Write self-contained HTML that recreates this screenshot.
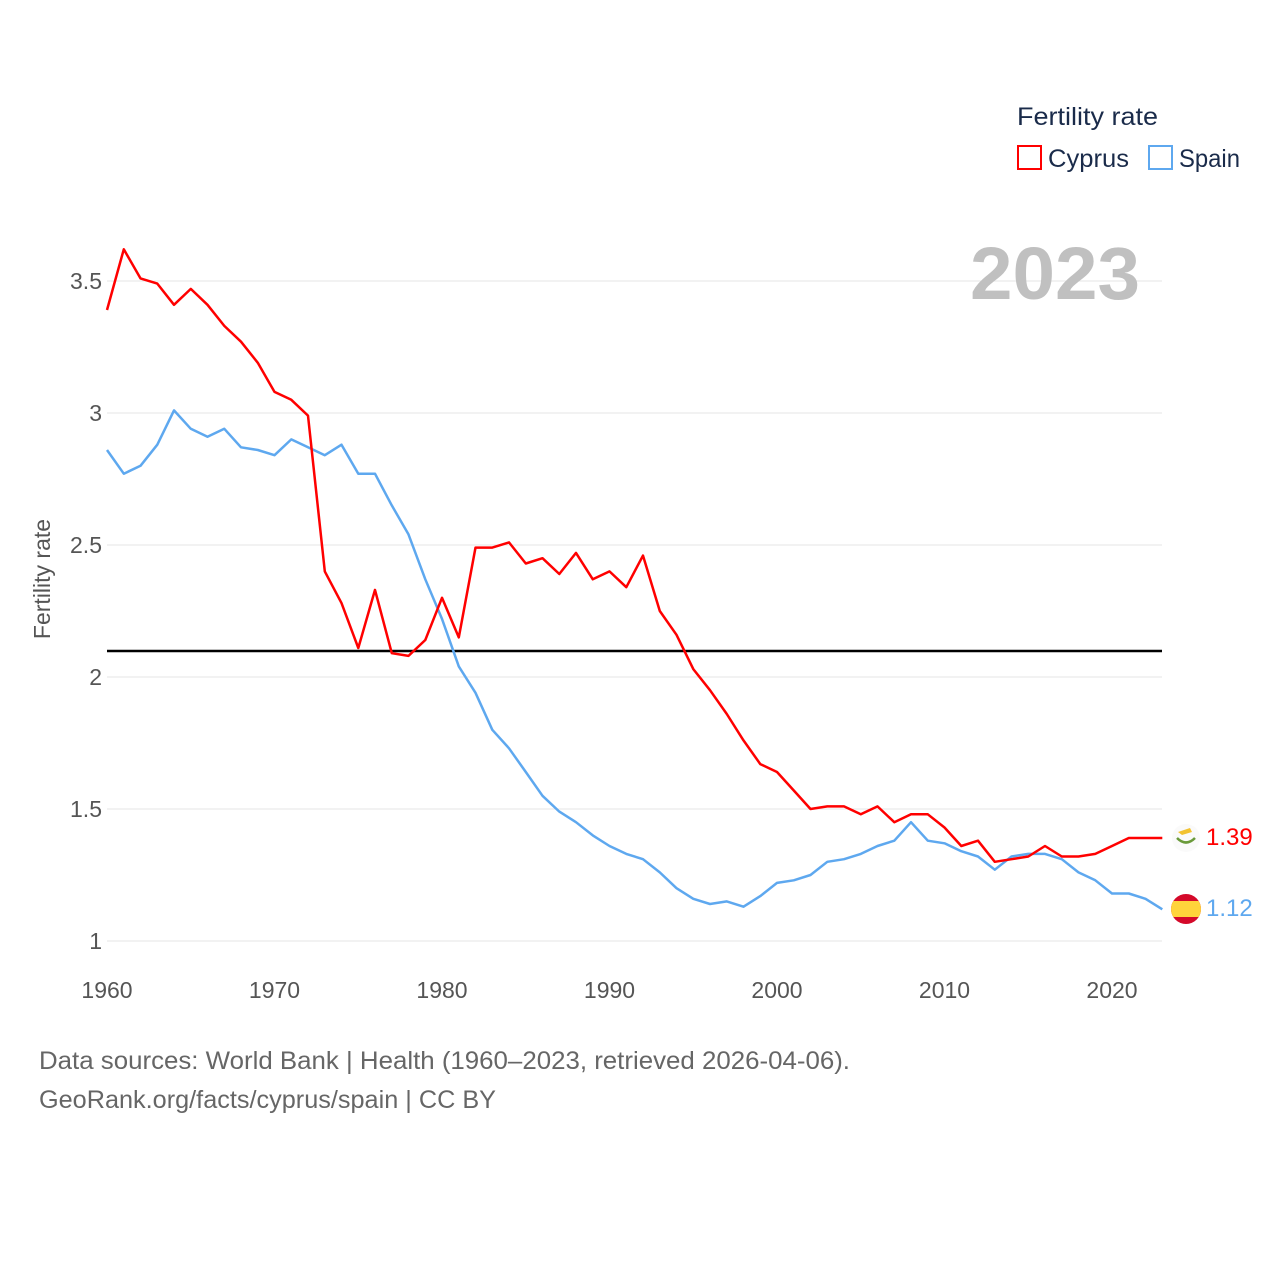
<!DOCTYPE html>
<html><head><meta charset="utf-8"><style>
body{margin:0;background:#fff;font-family:"Liberation Sans",sans-serif;}
svg{display:block}
</style></head><body>
<svg id="chart" width="1280" height="1280" viewBox="0 0 1280 1280">
<g id="grid"></g>
<g id="yticks"></g>
<g id="xticks"></g>
<text x="970" y="299" font-size="74" font-weight="bold" fill="#c0c0c0" textLength="170" lengthAdjust="spacingAndGlyphs">2023</text>
<text transform="translate(50,579) rotate(-90)" text-anchor="middle" font-size="23" fill="#555">Fertility rate</text>
<line x1="107" x2="1162" y1="651" y2="651" stroke="#000" stroke-width="2.5"/>
<g id="series"></g>
<g>
<text x="1017" y="125" font-size="25" fill="#1a2b4a" textLength="141" lengthAdjust="spacingAndGlyphs">Fertility rate</text>
<g><rect x="1018" y="146" width="23" height="23" fill="none" stroke="#ff0000" stroke-width="2"/><text x="1048" y="167" font-size="25" fill="#1a2b4a" textLength="81" lengthAdjust="spacingAndGlyphs">Cyprus</text></g>
<g><rect x="1149" y="146" width="23" height="23" fill="none" stroke="#5ea8ef" stroke-width="2"/><text x="1179" y="167" font-size="25" fill="#1a2b4a" textLength="61" lengthAdjust="spacingAndGlyphs">Spain</text></g>
</g>
<g><circle cx="1186" cy="838" r="14" fill="#fafafa"/><path d="M1178 832 l12 -4 l2 4 l-10 3z" fill="#f2c230"/><path d="M1177 838 q9 9 18 0" fill="none" stroke="#6a9a3a" stroke-width="2.5"/></g>
<g><clipPath id="sc"><circle cx="1186" cy="909" r="15"/></clipPath><g clip-path="url(#sc)"><rect x="1170" y="893" width="32" height="32" fill="#d4092a"/><rect x="1170" y="901" width="32" height="16" fill="#ffd43b"/></g></g>
<text x="1206" y="845" font-size="24" fill="#ff0000">1.39</text>
<text x="1206" y="916" font-size="24" fill="#5ea8ef">1.12</text>
<text x="39" y="1069" font-size="25" fill="#666" textLength="811" lengthAdjust="spacingAndGlyphs">Data sources: World Bank | Health (1960–2023, retrieved 2026-04-06).</text>
<text x="39" y="1108" font-size="25" fill="#666" textLength="457" lengthAdjust="spacingAndGlyphs">GeoRank.org/facts/cyprus/spain | CC BY</text>
</svg>
<script>
const years = [];
for (let y = 1960; y <= 2023; y++) years.push(y);
const cyprus = [3.39,3.62,3.51,3.49,3.41,3.47,3.41,3.33,3.27,3.19,3.08,3.05,2.99,2.40,2.28,2.11,2.33,2.09,2.08,2.14,2.30,2.15,2.49,2.49,2.51,2.43,2.45,2.39,2.47,2.37,2.40,2.34,2.46,2.25,2.16,2.03,1.95,1.86,1.76,1.67,1.64,1.57,1.50,1.51,1.51,1.48,1.51,1.45,1.48,1.48,1.43,1.36,1.38,1.30,1.31,1.32,1.36,1.32,1.32,1.33,1.36,1.39,1.39,1.39];
const spain = [2.86,2.77,2.80,2.88,3.01,2.94,2.91,2.94,2.87,2.86,2.84,2.90,2.87,2.84,2.88,2.77,2.77,2.65,2.54,2.37,2.22,2.04,1.94,1.80,1.73,1.64,1.55,1.49,1.45,1.40,1.36,1.33,1.31,1.26,1.20,1.16,1.14,1.15,1.13,1.17,1.22,1.23,1.25,1.30,1.31,1.33,1.36,1.38,1.45,1.38,1.37,1.34,1.32,1.27,1.32,1.33,1.33,1.31,1.26,1.23,1.18,1.18,1.16,1.12];
const yTicks = [1,1.5,2,2.5,3,3.5];
const yTickLabels = ["1","1.5","2","2.5","3","3.5"];
const xTicks = [1960,1970,1980,1990,2000,2010,2020];

const NS = "http://www.w3.org/2000/svg";
const X = v => 107 + (v - 1960) * 16.75;
const Y = v => 941 - (v - 1) * 264;
function mk(tag, attrs, parent){const e=document.createElementNS(NS,tag);for(const k in attrs)e.setAttribute(k,attrs[k]);parent.appendChild(e);return e;}
const grid=document.getElementById('grid'), yt=document.getElementById('yticks'), xt=document.getElementById('xticks'), ser=document.getElementById('series');
yTicks.forEach((v,i)=>{
  const l=mk('line',{x1:107,x2:1162,y1:Y(v),y2:Y(v),stroke:'#e6e6e6','stroke-width':1},grid);
  
  
  const t=mk('text',{x:102,y:Y(v)+8,'text-anchor':'end','font-size':23,fill:'#555'},yt);
  t.textContent=yTickLabels[i];
  
  
});
xTicks.forEach(v=>{
  const t=mk('text',{x:X(v),y:998,'text-anchor':'middle','font-size':23,fill:'#555'},xt);
  t.textContent=v;
  
  
});
function line(vals,color,name){
  const d=vals.map((v,i)=>(i?'L':'M')+X(years[i]).toFixed(1)+' '+Y(v).toFixed(1)).join(' ');
  const p=mk('path',{d:d,fill:'none',stroke:color,'stroke-width':2.5,'stroke-linejoin':'round'},ser);
  
  
}
line(spain,'#5ea8ef','spain-line');
line(cyprus,'#ff0000','cyprus-line');
</script>
</body></html>
